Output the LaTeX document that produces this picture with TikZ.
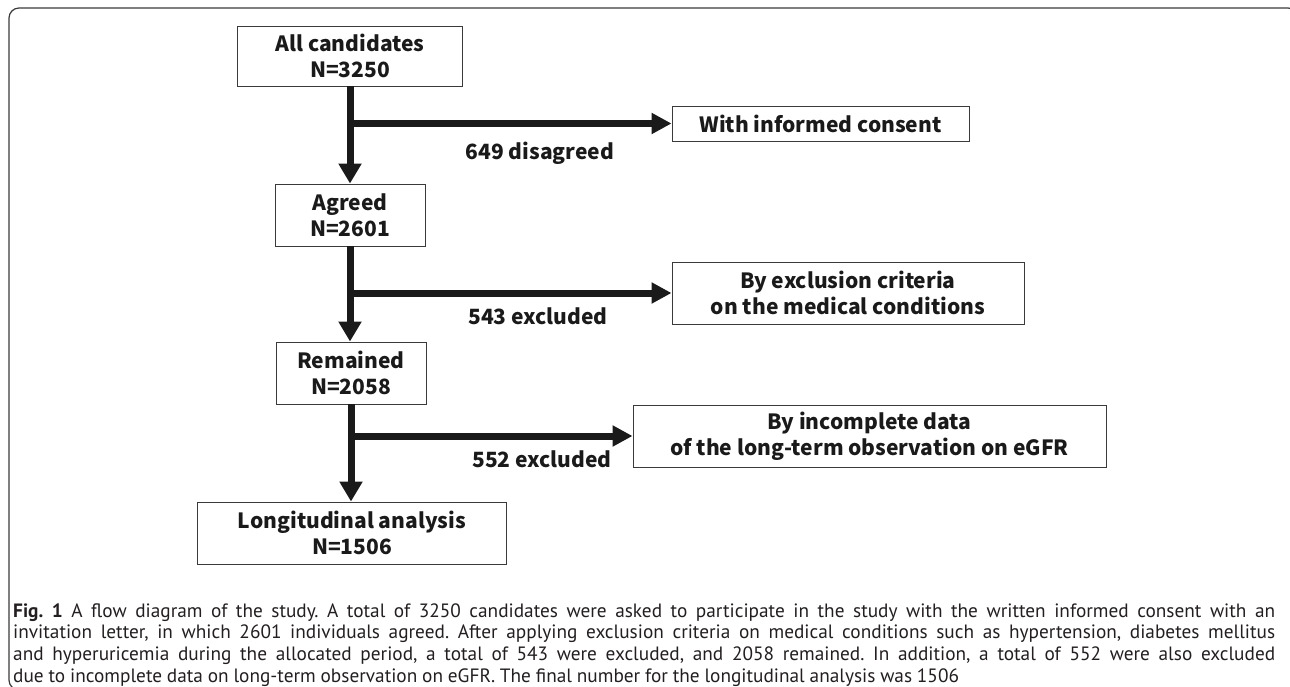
\documentclass[tikz,border=0pt]{standalone}
\usepackage{fontspec}
\usetikzlibrary{arrows.meta}
\newfontfamily\jpfont{Noto Sans CJK JP}
\newfontfamily\capfont{PT Sans}
\definecolor{ink}{HTML}{1A1A1A}
\definecolor{framecol}{HTML}{3A3A3A}
\definecolor{captext}{HTML}{231F20}
\tikzset{
  box/.style={draw=framecol, line width=0.9pt, fill=white, inner sep=0pt, align=center,
    font=\jpfont\bfseries\fontsize{21}{26}\selectfont, text=ink},
  flow/.style={line width=7pt, draw=ink, -{Triangle[length=20pt,width=22pt]}},
  side/.style={line width=7pt, draw=ink, -{Triangle[length=20pt,width=20pt]}},
  lab/.style={font=\jpfont\bfseries\fontsize{21}{26}\selectfont, text=ink, inner sep=0pt},
}
\newcommand\capline[1]{\noindent\makebox[\linewidth][s]{#1}\par}
\begin{document}
\begin{tikzpicture}[x=1pt,y=-1pt]
\useasboundingbox (0,0) rectangle (1290,687);
\draw[framecol, line width=1.2pt, rounded corners=10pt] (9,8) rectangle (1298,690);
% main column
\node[box, minimum width=225pt, minimum height=60pt] (cand) at (350,56) {All candidates\\N=3250};
\node[box, minimum width=150pt, minimum height=62pt] (agr) at (350,215) {Agreed\\N=2601};
\node[box, minimum width=150pt, minimum height=62pt] (rem) at (351,373) {Remained\\N=2058};
\node[box, minimum width=309pt, minimum height=62pt] (lon) at (352,533) {Longitudinal analysis\\N=1506};
% side boxes
\node[box, minimum width=297pt, minimum height=35pt] (inf) at (820.5,123.5) {With informed consent};
\node[box, minimum width=352pt, minimum height=62pt] (exc) at (848,293) {By exclusion criteria\\on the medical conditions};
\node[box, minimum width=473pt, minimum height=62pt] (inc) at (869.5,436) {By incomplete data\\of the long-term observation on eGFR};
% vertical flow
\draw[flow] (cand.south) -- (cand.south |- agr.north);
\draw[flow] (agr.south) -- (agr.south |- rem.north);
\draw[flow] (rem.south) -- (rem.south |- lon.north);
% branches
\coordinate (b1) at (cand.south |- inf.west);
\coordinate (b2) at (agr.south |- exc.west);
\coordinate (b3) at (rem.south |- inc.west);
\draw[side] (b1) -- (inf.west);
\draw[side] (b2) -- (exc.west);
\draw[side] (b3) -- (inc.west);
% labels
\node[lab] (l1) at (540,153) {649 disagreed};
\node[lab] (l2) at (538,316) {543 excluded};
\node[lab] (l3) at (542,459) {552 excluded};
% caption
\node[anchor=base west, inner sep=0pt, text=captext] (cap) at (13,617) {\parbox[t]{1262pt}{\capfont\fontsize{19.3}{21.8}\selectfont\frenchspacing
\spaceskip=0.25em plus 0.5em minus 0.2em
\capline{\textbf{Fig.~1} A flow diagram of the study. A total of 3250 candidates were asked to participate in the study with the written informed consent with an}
\capline{invitation letter, in which 2601 individuals agreed. After applying exclusion criteria on medical conditions such as hypertension, diabetes mellitus}
\capline{and hyperuricemia during the allocated period, a total of 543 were excluded, and 2058 remained. In addition, a total of 552 were also excluded}
\noindent due to incomplete data on long-term observation on eGFR. The final number for the longitudinal analysis was 1506}};
\end{tikzpicture}
\end{document}
